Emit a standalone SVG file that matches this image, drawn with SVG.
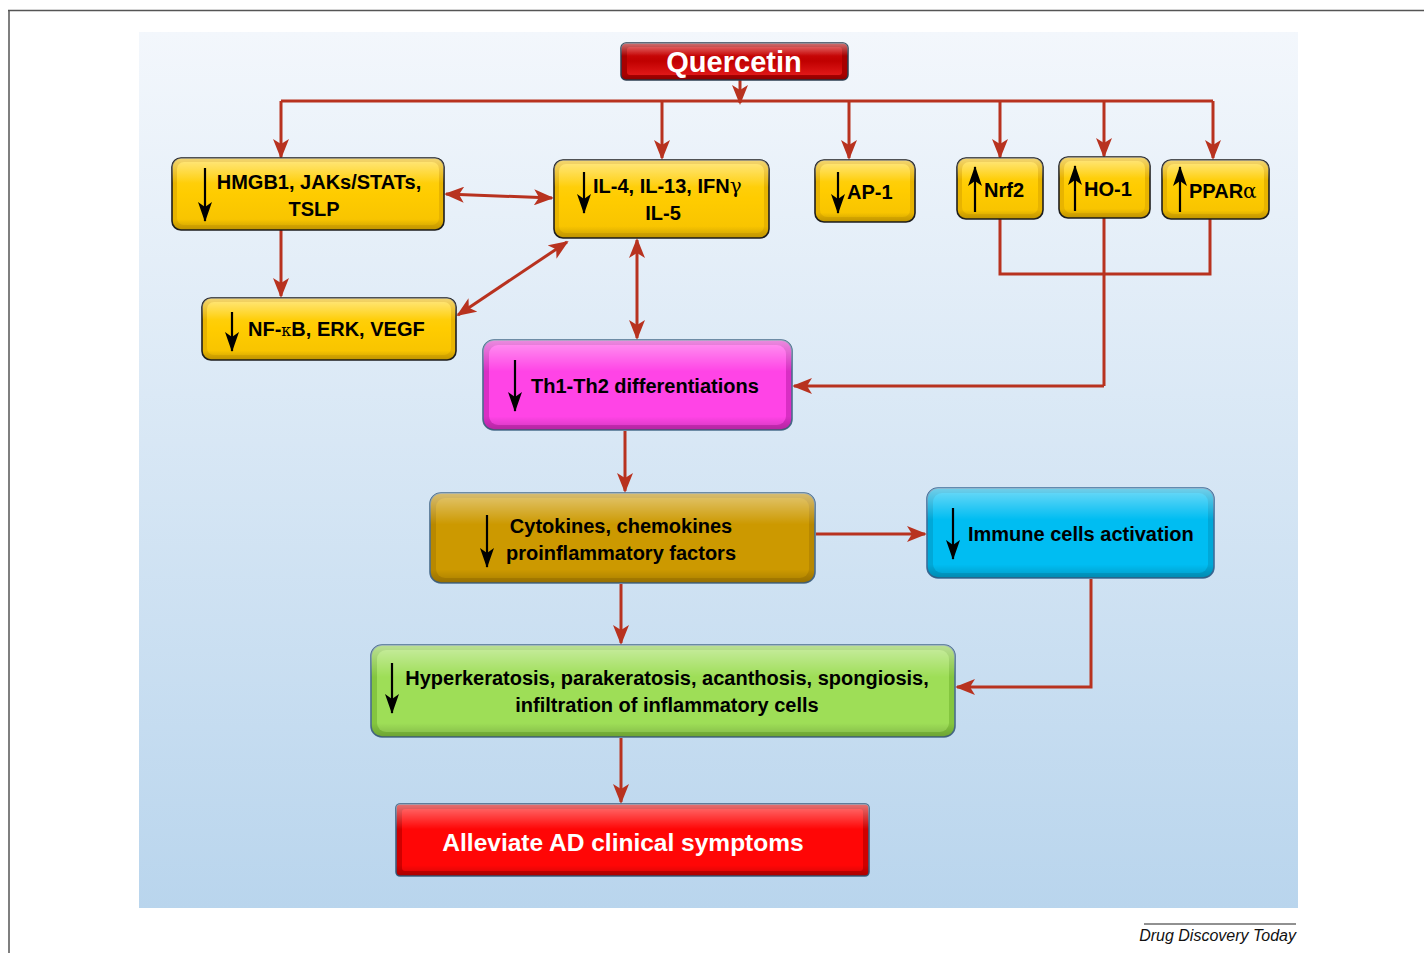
<svg xmlns="http://www.w3.org/2000/svg" width="1424" height="953" viewBox="0 0 1424 953">
<style>
.t{font-family:"Liberation Sans",Arial,sans-serif;font-weight:bold;font-size:20px;fill:#000}
.w{font-family:"Liberation Sans",Arial,sans-serif;font-weight:bold;fill:#fff}
.g{font-weight:normal;font-family:"DejaVu Serif","Liberation Serif",serif}
.c{stroke:#b8321f;stroke-width:3;fill:none}
.k{stroke:#000;stroke-width:2.2;fill:none;marker-end:url(#bk)}
.yb{fill:#e8b400;stroke:#1e1e1e;stroke-width:1.6}
.yi{fill:url(#gy)}
.hl{fill:url(#gl)}
</style>
<defs>
<linearGradient id="bg" x1="0" y1="0" x2="0" y2="1"><stop offset="0" stop-color="#f3f7fc"/><stop offset="1" stop-color="#b9d5ed"/></linearGradient>
<linearGradient id="gl" x1="0" y1="0" x2="0" y2="1"><stop offset="0" stop-color="#fff" stop-opacity="0.45"/><stop offset="0.35" stop-color="#fff" stop-opacity="0"/><stop offset="0.85" stop-color="#000" stop-opacity="0"/><stop offset="1" stop-color="#000" stop-opacity="0.18"/></linearGradient>
<linearGradient id="gy" x1="0" y1="0" x2="0" y2="1"><stop offset="0" stop-color="#ffd41c"/><stop offset="0.5" stop-color="#ffcc00"/><stop offset="1" stop-color="#f7c300"/></linearGradient>
<linearGradient id="gq" x1="0" y1="0" x2="0" y2="1"><stop offset="0" stop-color="#d01010"/><stop offset="0.5" stop-color="#c00000"/><stop offset="1" stop-color="#e01818"/></linearGradient>
<marker id="rh" viewBox="0 0 20 16" refX="18" refY="8" markerWidth="20" markerHeight="16" markerUnits="userSpaceOnUse" orient="auto-start-reverse"><path d="M0,0 L20,8 L0,16 L5,8 z" fill="#b8321f"/></marker>
<marker id="bk" viewBox="0 0 20 14" refX="19" refY="7" markerWidth="20" markerHeight="14" markerUnits="userSpaceOnUse" orient="auto"><path d="M0,0 L20,7 L0,14 L5,7 z" fill="#000"/></marker>
</defs>
<rect x="0" y="0" width="1424" height="953" fill="#fff"/>
<path d="M8,10.5 H1424 M9,10 V953" stroke="#555" stroke-width="1.5" fill="none"/>
<rect x="139" y="32" width="1159" height="876" fill="url(#bg)"/>

<g id="connectors">
<path class="c" d="M281,101 H1213"/>
<path class="c" marker-end="url(#rh)" d="M740,80 V103"/>
<path class="c" marker-end="url(#rh)" d="M281,101 V157"/>
<path class="c" marker-end="url(#rh)" d="M662,101 V158"/>
<path class="c" marker-end="url(#rh)" d="M849,101 V158"/>
<path class="c" marker-end="url(#rh)" d="M1000,101 V157"/>
<path class="c" marker-end="url(#rh)" d="M1104,101 V156"/>
<path class="c" marker-end="url(#rh)" d="M1213,101 V158"/>
<path class="c" marker-start="url(#rh)" marker-end="url(#rh)" d="M446,194 L552,198"/>
<path class="c" marker-end="url(#rh)" d="M281,230 V296"/>
<path class="c" marker-start="url(#rh)" marker-end="url(#rh)" d="M458,315 L567,242"/>
<path class="c" marker-start="url(#rh)" marker-end="url(#rh)" d="M637,240 V338"/>
<path class="c" d="M1000,219 V274 H1210 V219 M1104,218 V386"/>
<path class="c" marker-end="url(#rh)" d="M1104,386 H794"/>
<path class="c" marker-end="url(#rh)" d="M625,431 V491"/>
<path class="c" marker-end="url(#rh)" d="M816,534 H925"/>
<path class="c" marker-end="url(#rh)" d="M621,584 V643"/>
<path class="c" marker-end="url(#rh)" d="M1091,579 V687 H957"/>
<path class="c" marker-end="url(#rh)" d="M621,738 V802"/>
</g>

<g id="quercetin">
<rect x="621" y="43" width="227" height="37" rx="5" fill="#a80000" stroke="#2d3e50" stroke-width="1.5"/>
<rect x="627" y="47" width="215" height="28" rx="3" fill="url(#gq)"/>
<rect x="621" y="43" width="227" height="37" rx="5" class="hl"/>
<text class="w" x="734" y="72" font-size="29" text-anchor="middle">Quercetin</text>
</g>

<g id="hmgb1">
<rect class="yb" x="172" y="158" width="272" height="72" rx="9"/>
<rect class="yi" x="177" y="162" width="262" height="63" rx="7"/>
<rect class="hl" x="172" y="158" width="272" height="72" rx="9"/>
<path class="k" d="M205,168 V221"/>
<text class="t" x="319" y="189" text-anchor="middle">HMGB1, JAKs/STATs,</text>
<text class="t" x="314" y="216" text-anchor="middle">TSLP</text>
</g>

<g id="il4">
<rect class="yb" x="554" y="160" width="215" height="78" rx="9"/>
<rect class="yi" x="559" y="164" width="205" height="69" rx="7"/>
<rect class="hl" x="554" y="160" width="215" height="78" rx="9"/>
<path class="k" d="M584,172 V213"/>
<text class="t" x="593" y="193">IL-4, IL-13, IFN<tspan class="g">γ</tspan></text>
<text class="t" x="663" y="220" text-anchor="middle">IL-5</text>
</g>

<g id="ap1">
<rect class="yb" x="815" y="160" width="100" height="62" rx="9"/>
<rect class="yi" x="820" y="164" width="90" height="53" rx="7"/>
<rect class="hl" x="815" y="160" width="100" height="62" rx="9"/>
<path class="k" d="M838,172 V213"/>
<text class="t" x="847" y="199">AP-1</text>
</g>

<g id="nrf2">
<rect class="yb" x="957" y="158" width="86" height="61" rx="9"/>
<rect class="yi" x="962" y="162" width="76" height="52" rx="7"/>
<rect class="hl" x="957" y="158" width="86" height="61" rx="9"/>
<path class="k" d="M975,212 V167"/>
<text class="t" x="984" y="197">Nrf2</text>
</g>

<g id="ho1">
<rect class="yb" x="1059" y="157" width="91" height="61" rx="9"/>
<rect class="yi" x="1064" y="161" width="81" height="52" rx="7"/>
<rect class="hl" x="1059" y="157" width="91" height="61" rx="9"/>
<path class="k" d="M1075,211 V166"/>
<text class="t" x="1084" y="196">HO-1</text>
</g>

<g id="ppara">
<rect class="yb" x="1162" y="160" width="107" height="59" rx="9"/>
<rect class="yi" x="1167" y="164" width="97" height="50" rx="7"/>
<rect class="hl" x="1162" y="160" width="107" height="59" rx="9"/>
<path class="k" d="M1180,212 V167"/>
<text class="t" x="1189" y="198">PPAR<tspan class="g">α</tspan></text>
</g>

<g id="nfkb">
<rect class="yb" x="202" y="298" width="254" height="62" rx="9"/>
<rect class="yi" x="207" y="302" width="244" height="53" rx="7"/>
<rect class="hl" x="202" y="298" width="254" height="62" rx="9"/>
<path class="k" d="M232,312 V351"/>
<text class="t" x="248" y="336">NF-<tspan class="g" font-size="16">κ</tspan>B, ERK, VEGF</text>
</g>

<g id="th">
<rect x="483" y="340" width="309" height="90" rx="11" fill="#d92ec4" stroke="#4a6d8c" stroke-width="1.6"/>
<rect x="489" y="345" width="297" height="80" rx="9" fill="#ff44e6"/>
<rect x="483" y="340" width="309" height="90" rx="11" class="hl"/>
<path class="k" d="M515,360 V411"/>
<text class="t" x="531" y="393">Th1-Th2 differentiations</text>
</g>

<g id="cyto">
<rect x="430" y="493" width="385" height="90" rx="11" fill="#b88800" stroke="#4a6d8c" stroke-width="1.6"/>
<rect x="436" y="498" width="373" height="80" rx="9" fill="#cc9900"/>
<rect x="430" y="493" width="385" height="90" rx="11" class="hl"/>
<path class="k" d="M487,515 V567"/>
<text class="t" x="621" y="533" text-anchor="middle">Cytokines, chemokines</text>
<text class="t" x="621" y="560" text-anchor="middle">proinflammatory factors</text>
</g>

<g id="immune">
<rect x="927" y="488" width="287" height="90" rx="11" fill="#00a8d8" stroke="#3d6d99" stroke-width="1.6"/>
<rect x="933" y="493" width="275" height="80" rx="9" fill="#00bdf2"/>
<rect x="927" y="488" width="287" height="90" rx="11" class="hl"/>
<path class="k" d="M953,508 V559"/>
<text class="t" x="968" y="541">Immune cells activation</text>
</g>

<g id="hyper">
<rect x="371" y="645" width="584" height="92" rx="11" fill="#84c63f" stroke="#4a6d8c" stroke-width="1.6"/>
<rect x="377" y="650" width="572" height="82" rx="9" fill="#9ede57"/>
<rect x="371" y="645" width="584" height="92" rx="11" class="hl"/>
<path class="k" d="M392,663 V713"/>
<text class="t" x="667" y="685" text-anchor="middle">Hyperkeratosis, parakeratosis, acanthosis, spongiosis,</text>
<text class="t" x="667" y="712" text-anchor="middle">infiltration of inflammatory cells</text>
</g>

<g id="alleviate">
<rect x="396" y="804" width="473" height="72" rx="4" fill="#d00000" stroke="#3d5f80" stroke-width="1.6"/>
<rect x="402" y="809" width="461" height="62" rx="3" fill="#ff0606"/>
<rect x="396" y="804" width="473" height="72" rx="4" class="hl"/>
<text class="w" x="623" y="851" font-size="24.5" text-anchor="middle">Alleviate AD clinical symptoms</text>
</g>

<g id="footer">
<path d="M1144,924 H1296" stroke="#222" stroke-width="1"/>
<text x="1296" y="941" text-anchor="end" font-family="Liberation Sans, Arial, sans-serif" font-style="italic" font-size="16" fill="#111">Drug Discovery Today</text>
</g>
</svg>
